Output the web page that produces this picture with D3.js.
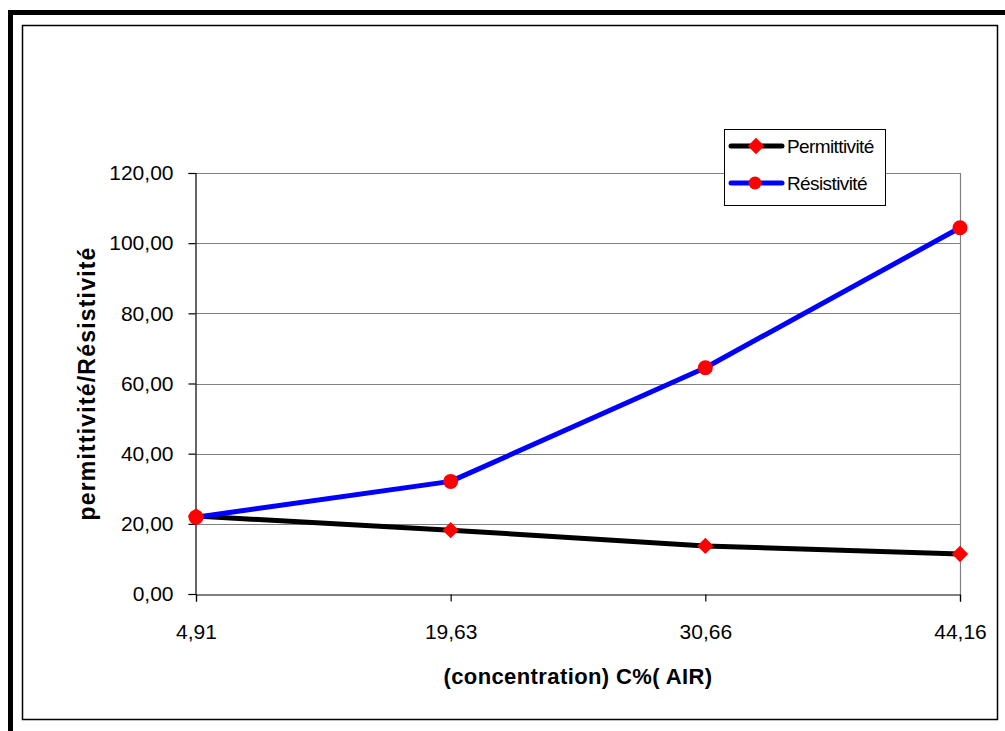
<!DOCTYPE html>
<html>
<head>
<meta charset="utf-8">
<script src="https://cdn.jsdelivr.net/npm/d3@7"></script>
<style>
  html, body { margin: 0; padding: 0; background: #fff; }
  svg { display: block; }
  text { font-family: "Liberation Sans", Arial, sans-serif; fill: #000; }
</style>
</head>
<body>
<svg id="chart" width="1005" height="731"></svg>
<script>
// Concentration categories (C% air) and measured series
const categories = ["4,91", "19,63", "30,66", "44,16"];
const permittivite = [22.2, 18.2, 13.7, 11.4];
const resistivite = [21.9, 32.1, 64.5, 104.4];
const yTicks = [0, 20, 40, 60, 80, 100, 120];
const seriesNames = ["Permittivité", "Résistivité"];

const svg = d3.select("#chart");
const W = 1005, H = 731;

// Outer heavy frame (runs off the right and bottom edges)
svg.append("rect")
  .attr("x", 10.5).attr("y", 12.5)
  .attr("width", W + 20).attr("height", H + 20)
  .attr("fill", "none").attr("stroke", "#000").attr("stroke-width", 5);

// Inner chart-area frame
svg.append("rect")
  .attr("x", 22.5).attr("y", 25.5)
  .attr("width", 975).attr("height", 694)
  .attr("fill", "#fff").attr("stroke", "#000").attr("stroke-width", 1.5);

const plot = { left: 196, right: 960, top: 173, bottom: 594 };

const x = d3.scalePoint().domain(categories).range([plot.left, plot.right]);
const y = d3.scaleLinear().domain([0, 120]).range([plot.bottom, plot.top]);

const fmt = v => d3.format(".2f")(v).replace(".", ",");

// Horizontal gridlines
svg.append("g")
  .selectAll("line")
  .data(yTicks.filter(v => v > 0))
  .join("line")
  .attr("x1", plot.left).attr("x2", plot.right)
  .attr("y1", d => Math.round(y(d)) + 0.5).attr("y2", d => Math.round(y(d)) + 0.5)
  .attr("stroke", "#808080").attr("stroke-width", 1);

// Plot area right border
svg.append("line")
  .attr("x1", plot.right + 0.5).attr("x2", plot.right + 0.5)
  .attr("y1", plot.top).attr("y2", plot.bottom)
  .attr("stroke", "#808080").attr("stroke-width", 1.2);

// Y axis
const yAxis = svg.append("g")
  .attr("transform", `translate(${plot.left - 0.5},0)`)
  .call(d3.axisLeft(y).tickValues(yTicks).tickFormat(fmt).tickSize(7).tickPadding(15));
yAxis.select(".domain").attr("stroke", "#000").attr("stroke-width", 1.2);
yAxis.selectAll(".tick line").attr("stroke", "#000").attr("stroke-width", 1.2);
yAxis.selectAll(".tick text")
  .style("font-family", '"Liberation Sans", Arial, sans-serif')
  .style("font-size", "21px").attr("fill", "#000");

// X axis
const xAxis = svg.append("g")
  .attr("transform", `translate(0,${plot.bottom + 0.5})`)
  .call(d3.axisBottom(x).tickSize(7).tickPadding(23));
xAxis.select(".domain").attr("stroke", "#000").attr("stroke-width", 1.2);
xAxis.selectAll(".tick line").attr("stroke", "#000").attr("stroke-width", 1.2);
xAxis.selectAll(".tick text")
  .style("font-family", '"Liberation Sans", Arial, sans-serif')
  .style("font-size", "21px").attr("fill", "#000");

// Axis titles
svg.append("text")
  .attr("x", (plot.left + plot.right) / 2).attr("y", 684)
  .attr("text-anchor", "middle")
  .style("font-size", "22px").style("font-weight", "bold")
  .style("letter-spacing", "0.4px")
  .text("(concentration) C%( AIR)");

svg.append("text")
  .attr("transform", `translate(95,${(plot.top + plot.bottom) / 2}) rotate(-90)`)
  .attr("text-anchor", "middle")
  .style("font-size", "23px").style("font-weight", "bold")
  .style("letter-spacing", "1.2px")
  .text("permittivité/Résistivité");

// Series lines
const line = d3.line().x((d, i) => x(categories[i])).y(d => y(d));

svg.append("path").datum(permittivite)
  .attr("d", line).attr("fill", "none")
  .attr("stroke", "#000").attr("stroke-width", 5).attr("stroke-linejoin", "round");

svg.append("path").datum(resistivite)
  .attr("d", line).attr("fill", "none")
  .attr("stroke", "#0000ff").attr("stroke-width", 5).attr("stroke-linejoin", "round");

// Markers
const diamond = d3.symbol().type(d3.symbolDiamond2).size(170);
svg.append("g").selectAll("circle")
  .data(resistivite)
  .join("circle")
  .attr("cx", (d, i) => x(categories[i])).attr("cy", d => y(d))
  .attr("r", 7.5).attr("fill", "#ff0000");

svg.append("g").selectAll("path")
  .data(permittivite)
  .join("path")
  .attr("d", diamond)
  .attr("transform", (d, i) => `translate(${x(categories[i])},${y(d)})`)
  .attr("fill", "#ff0000");

// Legend
const lg = svg.append("g");
lg.append("rect")
  .attr("x", 724.5).attr("y", 129.5).attr("width", 161).attr("height", 76)
  .attr("fill", "#fff").attr("stroke", "#000").attr("stroke-width", 1);

const rows = [
  { name: seriesNames[0], color: "#000", marker: "diamond", y: 146 },
  { name: seriesNames[1], color: "#0000ff", marker: "circle", y: 183 }
];
rows.forEach(r => {
  lg.append("line")
    .attr("x1", 731).attr("x2", 782).attr("y1", r.y).attr("y2", r.y)
    .attr("stroke", r.color).attr("stroke-width", 5).attr("stroke-linecap", "round");
  if (r.marker === "diamond") {
    lg.append("path").attr("d", diamond)
      .attr("transform", `translate(756,${r.y})`).attr("fill", "#ff0000");
  } else {
    lg.append("circle").attr("cx", 755).attr("cy", r.y).attr("r", 6.5).attr("fill", "#ff0000");
  }
  lg.append("text")
    .attr("x", 787).attr("y", r.y + 7)
    .style("font-size", "19px").style("letter-spacing", "-0.6px")
    .text(r.name);
});
</script>
</body>
</html>
